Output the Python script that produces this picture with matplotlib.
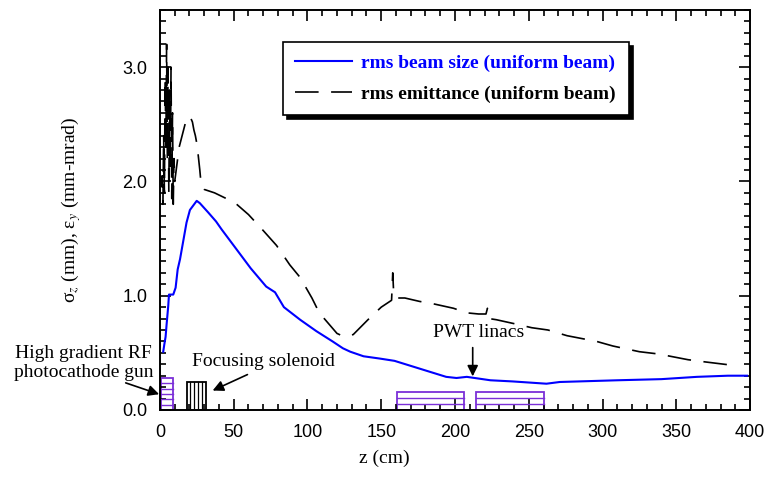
import numpy as np
import matplotlib
matplotlib.use('Agg')
import matplotlib.pyplot as plt
from matplotlib.patches import Rectangle
from matplotlib.ticker import MultipleLocator, FormatStrFormatter

plt.rcParams['font.family'] = 'Liberation Sans'
plt.rcParams['mathtext.fontset'] = 'stix'
plt.rcParams['lines.scale_dashes'] = False

# rms beam size (uniform beam), sigma_z in mm vs z in cm
z_size = [2.2, 2.9, 3.8, 4.5, 5.6, 6.1, 9, 10.6, 12, 13.6, 15.8, 18, 20.3, 24.9,
          27, 32.6, 38, 41.8, 50.5, 61.5, 72, 78, 84, 95, 106, 117, 124, 129, 138,
          149, 159, 174, 194, 201, 208, 224, 239, 262, 271, 310, 340, 364, 385, 398]
sigma = [0.51, 0.57, 0.64, 0.75, 0.91, 1.01, 1.01, 1.07, 1.23, 1.32, 1.48, 1.64, 1.75, 1.83,
         1.81, 1.73, 1.65, 1.58, 1.43, 1.24, 1.08, 1.03, 0.90, 0.79, 0.69, 0.60, 0.54, 0.51, 0.47,
         0.45, 0.43, 0.37, 0.29, 0.28, 0.29, 0.26, 0.25, 0.23, 0.245, 0.26, 0.27, 0.29, 0.30, 0.30]

# rms emittance (uniform beam), mm-mrad
z_emit = [1, 1.5, 2, 2.5, 3, 3.5, 4, 4.5, 5, 5.5, 6, 6.5, 7, 7.5, 8, 8.5, 9, 9.5, 10, 11,
          12, 13, 14, 15, 16, 17, 18, 19, 20, 21, 22, 23, 24, 25, 26, 27, 28, 30, 37, 45,
          52, 60, 70, 79, 88, 95, 103, 108, 114, 120, 125, 131, 141, 150, 157, 157.8, 158.5,
          161, 166, 176, 185, 199, 208, 216, 221, 222, 223, 228, 242, 252, 263, 276, 296,
          307, 325, 338, 358, 370, 389]
emit = [1.95, 2.05, 1.8, 2.4, 1.9, 2.9, 2.3, 3.2, 2.2, 3.0, 1.9, 2.8, 2.1, 3.0, 1.85, 2.6,
        1.8, 2.2, 2.0, 2.1, 2.2, 2.3, 2.35, 2.4, 2.45, 2.5, 2.55, 2.57, 2.56, 2.55, 2.52, 2.45,
        2.4, 2.33, 2.22, 2.1, 1.96, 1.93, 1.9, 1.85, 1.8, 1.71, 1.57, 1.44, 1.27, 1.16, 0.98,
        0.85, 0.76, 0.67, 0.64, 0.66, 0.79, 0.90, 0.96, 1.20, 1.0, 0.98, 0.98, 0.95, 0.93,
        0.89, 0.85, 0.84, 0.84, 0.89, 0.80, 0.79, 0.75, 0.72, 0.70, 0.65, 0.60, 0.56, 0.51,
        0.49, 0.44, 0.42, 0.39]

# beamline components: (z start, z end, height, hatch rows)
gun = (0.8, 9.0, 0.28, 6)
solenoid = (18, 31, 0.245, 5)
linacs = [(160.5, 206, 0.16, 3), (214, 260, 0.16, 3)]

purple = '#7B2FD8'

fig = plt.figure(figsize=(7.68, 4.86), dpi=100)
ax = fig.add_axes([0.2083, 0.1564, 0.7683, 0.823])

l1, = ax.plot(z_size, sigma, color='blue', lw=1.5)
l2, = ax.plot(z_emit, emit, color='black', lw=1.2, linestyle=(0, (17, 9)))

# purple boxes with horizontal lines (gun, linacs)
def hbox(z0, z1, h, n, color):
    ax.add_patch(Rectangle((z0, 0), z1 - z0, h, fill=False, edgecolor=color, lw=1.3))
    for yy in np.linspace(0, h, n + 1)[1:-1]:
        ax.plot([z0, z1], [yy, yy], color=color, lw=1.0)

hbox(*gun, purple)
for lin in linacs:
    hbox(*lin, purple)

# solenoid (black, vertical lines)
s0, s1, sh, sn = solenoid
ax.add_patch(Rectangle((s0, 0), s1 - s0, sh, fill=False, edgecolor='black', lw=1.3))
for xx in np.linspace(s0, s1, sn + 1)[1:-1]:
    ax.plot([xx, xx], [0, sh], color='black', lw=0.9)

ax.set_xlim(0, 400)
ax.set_ylim(0, 3.5)

ax.xaxis.set_major_locator(MultipleLocator(50))
ax.xaxis.set_minor_locator(MultipleLocator(10))
ax.yaxis.set_major_locator(MultipleLocator(1.0))
ax.yaxis.set_minor_locator(MultipleLocator(0.1))
ax.yaxis.set_major_formatter(FormatStrFormatter('%.1f'))
ax.tick_params(which='both', direction='in', top=True, right=True, width=1.2)
ax.tick_params(which='major', length=8, labelsize=13)
ax.tick_params(axis='x', which='major', pad=10)
ax.tick_params(axis='y', which='major', pad=9)
ax.tick_params(which='minor', length=4)
for sp in ax.spines.values():
    sp.set_linewidth(1.4)

serif = 'Liberation Serif'
ax.set_xlabel('z (cm)', family=serif, fontsize=14)
ax.xaxis.set_label_coords(0.38, -0.1)
ax.set_ylabel('σ$_z$ (mm), ε$_y$ (mm-mrad)', family=serif, fontsize=14)
ax.yaxis.set_label_coords(-0.13, 0.5)

# annotations
ax.text(-52, 0.41, 'High gradient RF\nphotocathode gun', family=serif, fontsize=14,
        ha='center', va='center', linespacing=1.1, clip_on=False)
ax.annotate('', xy=(1.2, 0.13), xytext=(-25, 0.245), annotation_clip=False,
            arrowprops=dict(arrowstyle='-|>', color='black', lw=1.2, mutation_scale=16))
ax.text(70, 0.42, 'Focusing solenoid', family=serif, fontsize=14, ha='center', va='center')
ax.annotate('', xy=(34, 0.16), xytext=(61, 0.32),
            arrowprops=dict(arrowstyle='-|>', color='black', lw=1.2, mutation_scale=16))
ax.text(216, 0.675, 'PWT linacs', family=serif, fontsize=14, ha='center', va='center')
ax.annotate('', xy=(212, 0.27), xytext=(212, 0.57),
            arrowprops=dict(arrowstyle='-|>', color='black', lw=1.2, mutation_scale=16))

leg = ax.legend([l1, l2], ['rms beam size (uniform beam)', 'rms emittance (uniform beam)'],
                loc='upper left', bbox_to_anchor=(0.208, 0.92), borderaxespad=0,
                prop=dict(family=serif, weight='bold', size=14), labelcolor=['blue', 'black'],
                handlelength=2.9, handletextpad=0.5, fancybox=False, framealpha=1,
                edgecolor='black', borderpad=0.65, labelspacing=0.65,
                shadow=dict(ox=3, oy=-3, color='black', alpha=1))
leg.get_frame().set_linewidth(1.2)

fig.savefig('out.png', dpi=100)
